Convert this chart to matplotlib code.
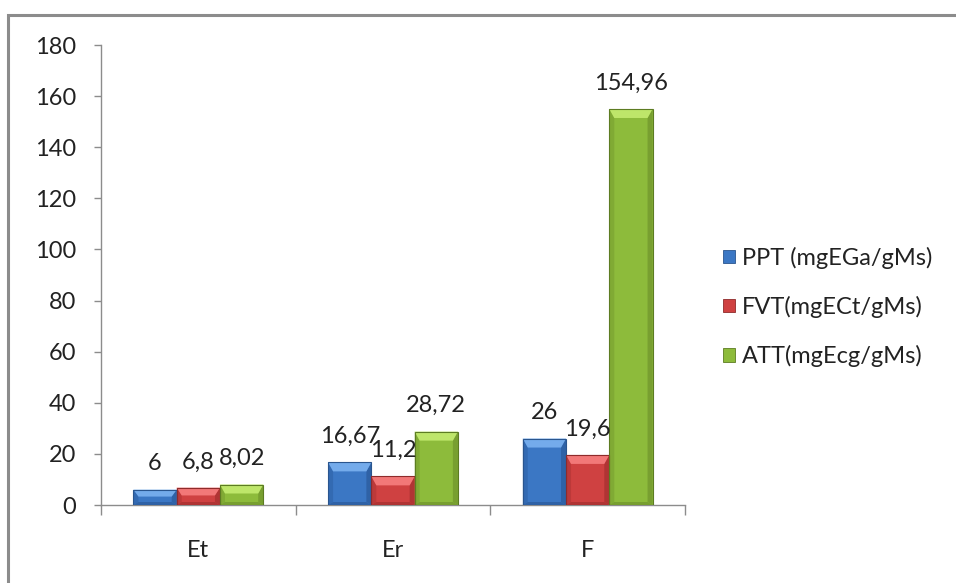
import matplotlib
matplotlib.use("Agg")
import matplotlib.pyplot as plt
from matplotlib.patches import Polygon, Rectangle
import numpy as np

plt.rcParams['font.family'] = ['Lato', 'DejaVu Sans']

categories = ["Et", "Er", "F"]
series_names = ["PPT (mgEGa/gMs)", "FVT(mgECt/gMs)", "ATT(mgEcg/gMs)"]
ppt = [6, 16.67, 26]
fvt = [6.8, 11.2, 19.6]
att = [8.02, 28.72, 154.96]
value_labels = [["6", "16,67", "26"], ["6,8", "11,2", "19,6"], ["8,02", "28,72", "154,96"]]
y_ticks = [0, 20, 40, 60, 80, 100, 120, 140, 160, 180]

# base, light bevel, dark side, outline
palettes = [
    ("#3B77C4", "#74ABEB", "#2F62A6", "#2A558E"),
    ("#CF4141", "#F27878", "#B03434", "#8E2B2B"),
    ("#8DBB3B", "#BEE66A", "#789F30", "#5C7C22"),
]

fig = plt.figure(figsize=(9.56, 5.83), dpi=100)
ax = fig.add_axes([101 / 956, 78 / 583, 584 / 956, 460 / 583])

ax.set_xlim(-0.5, 2.5)
ax.set_ylim(0, 180)

x = np.arange(len(categories))
width = 1 / 4.5
offsets = [-width, 0, width]

# bevel sizes in data units (derived from the axes scale)
px_per_x = 584 / 3.0
px_per_y = 460 / 180.0
bev_top = 9 / px_per_y
bev_side = 5 / px_per_x
bev_bot = 3 / px_per_y


def bevel_bar(ax, xc, h, pal):
    base, light, dark, edge = pal
    x0, x1 = xc - width / 2, xc + width / 2
    bt = min(bev_top, h * 0.45)
    bb = min(bev_bot, h * 0.2)
    ax.add_patch(Rectangle((x0, 0), width, h, facecolor=base, edgecolor="none", zorder=2))
    # left and right sides
    ax.add_patch(Polygon([(x0, 0), (x0, h), (x0 + bev_side, h - bt), (x0 + bev_side, bb)],
                         closed=True, facecolor=dark, edgecolor="none", alpha=0.6, zorder=3))
    ax.add_patch(Polygon([(x1, 0), (x1, h), (x1 - bev_side, h - bt), (x1 - bev_side, bb)],
                         closed=True, facecolor=dark, edgecolor="none", zorder=3))
    # bottom
    ax.add_patch(Polygon([(x0, 0), (x1, 0), (x1 - bev_side, bb), (x0 + bev_side, bb)],
                         closed=True, facecolor=dark, edgecolor="none", zorder=3))
    # top light bevel
    ax.add_patch(Polygon([(x0, h), (x1, h), (x1 - bev_side, h - bt), (x0 + bev_side, h - bt)],
                         closed=True, facecolor=light, edgecolor="none", zorder=3))
    ax.add_patch(Rectangle((x0, 0), width, h, facecolor="none", edgecolor=edge,
                           linewidth=0.8, zorder=4))


handles = []
for s, vals in enumerate([ppt, fvt, att]):
    for i, v in enumerate(vals):
        bevel_bar(ax, x[i] + offsets[s], v, palettes[s])
        ax.annotate(value_labels[s][i], (x[i] + offsets[s], v), xytext=(0, 11),
                    textcoords="offset points", ha="center", va="bottom",
                    fontsize=17, color="#222222", zorder=5)
    handles.append(Rectangle((0, 0), 1, 1, facecolor=palettes[s][0],
                             edgecolor=palettes[s][3], linewidth=0.6))

# axes styling
for sp in ["top", "right"]:
    ax.spines[sp].set_visible(False)
for sp in ["left", "bottom"]:
    ax.spines[sp].set_color("#8C8C8C")
    ax.spines[sp].set_linewidth(1.0)

ax.set_yticks(y_ticks)
ax.set_yticklabels([str(t) for t in y_ticks])
ax.tick_params(axis="y", direction="out", length=5, width=1, color="#8C8C8C",
               pad=13, labelsize=17, labelcolor="#222222")

ax.set_xticks([-0.5, 0.5, 1.5, 2.5])
ax.set_xticklabels([])
ax.set_xticks(x, minor=True)
ax.set_xticklabels(categories, minor=True)
ax.tick_params(axis="x", which="major", direction="out", length=7, width=1, color="#8C8C8C")
ax.tick_params(axis="x", which="minor", length=0, pad=25, labelsize=17, labelcolor="#222222")

leg = fig.legend(handles, series_names, loc="center left",
                 bbox_to_anchor=(702 / 956, 1 - 307 / 583), frameon=False,
                 fontsize=17, handlelength=0.5, handleheight=0.5,
                 handletextpad=0.3, labelspacing=1.15, labelcolor="#222222")

# chart area frame
fig.patches.append(Rectangle((8 / 956, -0.05), 1.2, 1 - 15 / 583 + 0.05,
                             transform=fig.transFigure, facecolor="none",
                             edgecolor="#8C8C8C", linewidth=2.2, zorder=0))

fig.savefig("out.png", dpi=100)
